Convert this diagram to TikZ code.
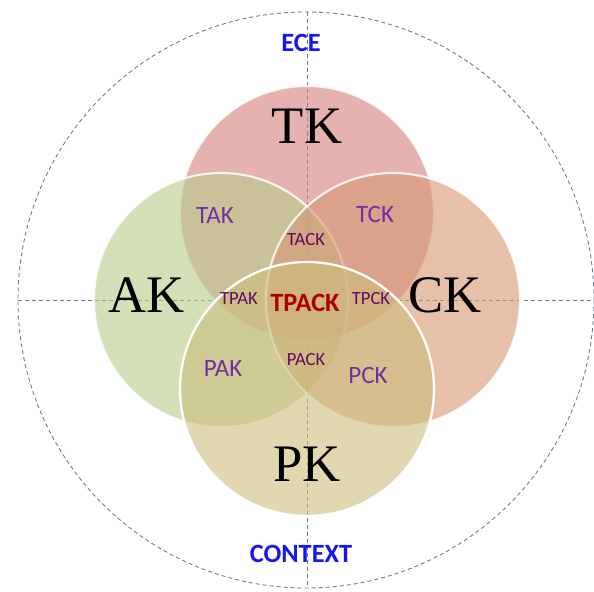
\documentclass[tikz,border=0pt]{standalone}
\usepackage{fontspec}
\setmainfont{Liberation Serif}
\newfontfamily\labelfont{Carlito}
\usepackage{tikz}
\usetikzlibrary{positioning}

\definecolor{tkcol}{RGB}{213,127,123}
\definecolor{akcol}{RGB}{183,203,137}
\definecolor{ckcol}{RGB}{213,150,112}
\definecolor{pkcol}{RGB}{205,190,125}
\definecolor{axiscol}{RGB}{95,125,155}
\definecolor{pairtxt}{RGB}{112,48,160}
\definecolor{tripletxt}{RGB}{100,10,100}
\definecolor{tpacktxt}{RGB}{175,0,0}
\definecolor{ctxtxt}{RGB}{20,20,245}

\begin{document}
\begin{tikzpicture}[x=0.02cm,y=-0.02cm]

\tikzset{knowcircle/.style={fill opacity=0.6, draw=white, draw opacity=0.85, line width=1.2pt},
         bigk/.style={font=\fontsize{30}{32}\selectfont, text=black},
         pairk/.style={font=\labelfont\fontsize{14.2}{16}\selectfont, text=pairtxt},
         triplek/.style={font=\labelfont\fontsize{10.6}{12}\selectfont, text=tripletxt},
         ctxk/.style={font=\labelfont\bfseries\fontsize{15}{17}\selectfont, text=ctxtxt},
         axis/.style={axiscol, line width=0.5pt, dash pattern=on 2.3pt off 1.7pt}}

    \def\R{127} % Radius of the knowledge circles
    \def\Rout{288} % Radius of the context circle

    \useasboundingbox (0,0) rectangle (594,591);

    % Context circle and axes
    \coordinate (O) at (306,300);
    \draw[axis] (O) circle[radius=\Rout];
    \coordinate (Otop) at (307,12);
    \coordinate (Obot) at (307,588);
    \coordinate (Oleft) at (18,300);
    \coordinate (Oright) at (593,300);
    \draw[axis] (Otop) -- (Obot);
    \draw[axis] (Oleft) -- (Oright);

    % Knowledge circles
    \fill[knowcircle, fill=tkcol] (307,213) circle[radius=\R];
    \fill[knowcircle, fill=akcol] (221,300) circle[radius=\R];
    \fill[knowcircle, fill=ckcol] (393,300) circle[radius=\R];
    \fill[knowcircle, fill=pkcol] (307,389) circle[radius=\R];
    \draw[white, line width=1.2pt, opacity=0.85] (307,389) circle[radius=\R];

    % Main labels
    \node[bigk] (TK) at (307,126) {TK};
    \node[bigk] (AK) at (147,295) {AK};
    \node[bigk] (CK) at (445,295) {CK};
    \node[bigk] (PK) at (307,464) {PK};

    % Pair labels
    \node[pairk] (TAK) at (215,215) {TAK};
    \node[pairk] (TCK) at (375,214) {TCK};
    \node[pairk] (PAK) at (223,368) {PAK};
    \node[pairk] (PCK) at (368,375) {PCK};

    % Triple labels
    \node[triplek] (TACK) at (306,240) {TACK};
    \node[triplek] (TPAK) at (239,299) {TPAK};
    \node[triplek] (TPCK) at (371,299) {TPCK};
    \node[triplek] (PACK) at (306,360) {PACK};
    \node[font=\labelfont\bfseries\fontsize{15}{17}\selectfont, text=tpacktxt] (TPACK) at (305,303) {TPACK};

    % Context labels
    \node[ctxk] (ECE) at (301,43) {ECE};
    \node[ctxk] (CONTEXT) at (301,554) {CONTEXT};

\end{tikzpicture}
\end{document}
